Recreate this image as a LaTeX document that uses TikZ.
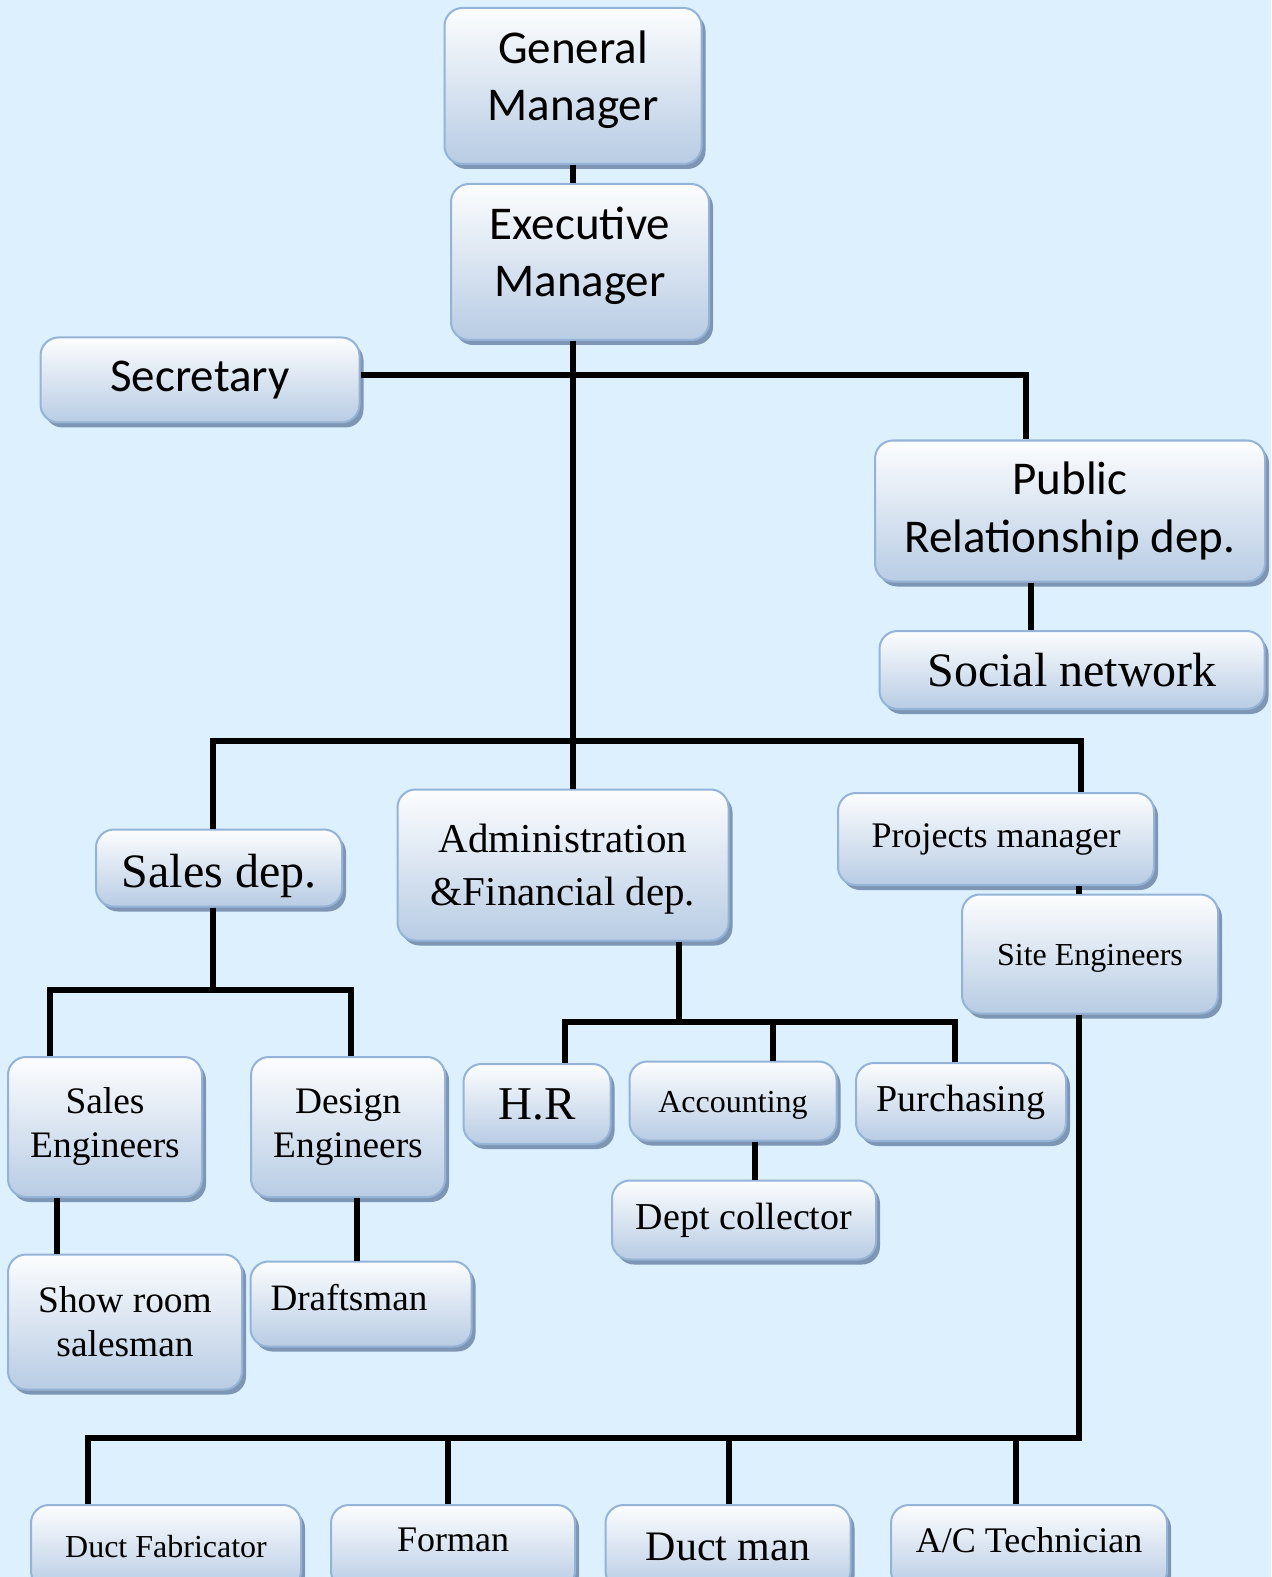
\documentclass[tikz,border=0pt]{standalone}
\usepackage{fontspec}
\setmainfont{Liberation Serif}
\newfontfamily\calfont{Carlito}
\usetikzlibrary{shadows}
\newcommand\myfs[2]{\fontsize{#1}{#2}\selectfont}
\definecolor{bgc}{RGB}{220,240,254}
\definecolor{topc}{RGB}{252,253,254}
\definecolor{botc}{RGB}{184,204,228}
\definecolor{bordc}{RGB}{149,179,215}
\definecolor{shadc}{RGB}{126,150,180}
\tikzset{
  x=0.5pt, y=-0.5pt,
  box/.style={rectangle, rounded corners=9pt, draw=bordc, line width=1pt,
    top color=topc, bottom color=botc, align=center, inner sep=2pt,
    drop shadow={shadow xshift=2pt, shadow yshift=-2.5pt, fill=shadc, opacity=1}},
  sz/.style 2 args={minimum width=#1*0.5pt, minimum height=#2*0.5pt},
  cal/.style={font=\calfont\myfs{23.5}{28.5}},
  conn/.style={draw=black, line width=2.7pt},
  txt/.style={inner sep=0pt, align=center}
}
\begin{document}
\begin{tikzpicture}
\clip (0,0) rectangle (1271,1577);
\fill[bgc] (0,0) rectangle (1271,1577);
% connector junctions
\coordinate (prj) at (1026,375);
\coordinate (hL) at (213,741);
\coordinate (hR) at (1081,741);
\coordinate (sj) at (213,990);
\coordinate (sl) at (50,990);
\coordinate (sr) at (351,990);
\coordinate (aj) at (679,1022);
\coordinate (al) at (565,1022);
\coordinate (am) at (773,1022);
\coordinate (ar) at (955,1022);
\coordinate (bR) at (1079,1438);
\coordinate (bL) at (88,1438);
\coordinate (b2) at (448,1438);
\coordinate (b3) at (729,1438);
\coordinate (b4) at (1016,1438);
\coordinate (mx) at (573,0);
% boxes
\node[box, sz={257}{156}] (gm) at (573,86) {};
\node[txt, cal] (gmT) at (573,79.5) {General\\Manager};
\node[box, sz={258}{156}] (em) at (580,262) {};
\node[txt, cal] (emT) at (580,256) {Executive\\Manager};
\node[box, sz={319}{85}, cal] (sec) at (200,380) {Secretary};
\node[box, sz={390}{141}, font=\calfont\myfs{23.5}{29}] (pr) at (1070,511) {Public\\Relationship dep.};
\node[box, sz={385}{78}, font=\myfs{24}{28}] (soc) at (1072,670) {Social network};
\node[box, sz={246}{77}] (sales) at (219,868) {};
\node[txt, font=\myfs{24}{28}] (salesT) at (219,876) {Sales dep.};
\node[box, sz={331}{151}] (adm) at (563,865) {};
\node[txt, font=\myfs{20.5}{26.5}] (admT) at (563,869) {Administration\\\&Financial dep.};
\node[box, sz={316}{92}, font=\myfs{18}{22}] (pm) at (996,839) {Projects manager};
\node[box, sz={256}{119}] (site) at (1090,954) {};
\node[txt, font=\myfs{16}{20}] (siteT) at (1090,958) {Site Engineers};
\node[box, sz={194}{140}, font=\myfs{18.7}{22}] (seng) at (105,1127) {Sales\\Engineers};
\node[box, sz={194}{140}, font=\myfs{18.7}{22}] (deng) at (348,1127) {Design\\Engineers};
\node[box, sz={147}{80}, font=\myfs{23.5}{28}] (hr) at (537,1104) {H.R};
\node[box, sz={207}{79}] (acc) at (733,1101) {};
\node[txt, font=\myfs{16}{20}] (accT) at (733,1105) {Accounting};
\node[box, sz={210}{78}, font=\myfs{19}{22}] (pur) at (961,1102) {Purchasing};
\node[box, sz={264}{79}, font=\myfs{19}{22}] (dept) at (744,1220) {Dept collector};
\node[box, sz={234}{135}, font=\myfs{18.7}{22}] (show) at (125,1322) {Show room\\salesman};
\node[box, sz={221}{85}] (draft) at (361,1304) {};
\node[txt, font=\myfs{18.6}{22}] (draftT) at (349,1298) {Draftsman};
\node[box, sz={270}{84}, font=\myfs{16}{20}] (df) at (166,1547) {Duct Fabricator};
\node[box, sz={244}{84}] (fo) at (453,1547) {};
\node[txt, font=\myfs{18}{22}] (foT) at (453,1540) {Forman};
\node[box, sz={245}{84}, font=\myfs{21}{24}] (dm) at (728,1547) {Duct man};
\node[box, sz={276}{84}] (ac) at (1029,1547) {};
\node[txt, font=\myfs{18}{22}] (acT) at (1029,1540) {A/C Technician};
% connectors
\draw[conn] (gm.south -| mx) -- (em.north -| mx);
\draw[conn] (em.south -| mx) -- (adm.north -| mx);
\draw[conn] (sec.east |- prj) -- (prj) -- (prj |- pr.north);
\draw[conn] ([xshift=-19.5pt]pr.south) -- ([xshift=-19.5pt]pr.south |- soc.north);
\draw[conn] (sales.north -| hL) -- (hL) -- (hR) -- (hR |- pm.north);
\draw[conn] (sales.south -| sj) -- (sj);
\draw[conn] (seng.north -| sl) -- (sl) -- (sr) -- (sr |- deng.north);
\draw[conn] ([xshift=-24pt]seng.south) -- ([xshift=-24pt]seng.south |- show.north);
\draw[conn] ([xshift=4.5pt]deng.south) -- ([xshift=4.5pt]deng.south |- draft.north);
\draw[conn] (adm.south -| aj) -- (aj);
\draw[conn] (hr.north -| al) -- (al) -- (ar) -- (ar |- pur.north);
\draw[conn] (acc.north -| am) -- (am);
\draw[conn] ([xshift=11pt]acc.south) -- ([xshift=11pt]acc.south |- dept.north);
\draw[conn] (pm.south -| bR) -- (site.north -| bR);
\draw[conn] (site.south -| bR) -- (bR) -- (bL) -- (df.north -| bL);
\draw[conn] (b2) -- (fo.north -| b2);
\draw[conn] (b3) -- (dm.north -| b3);
\draw[conn] (b4) -- (ac.north -| b4);
\end{tikzpicture}
\end{document}
